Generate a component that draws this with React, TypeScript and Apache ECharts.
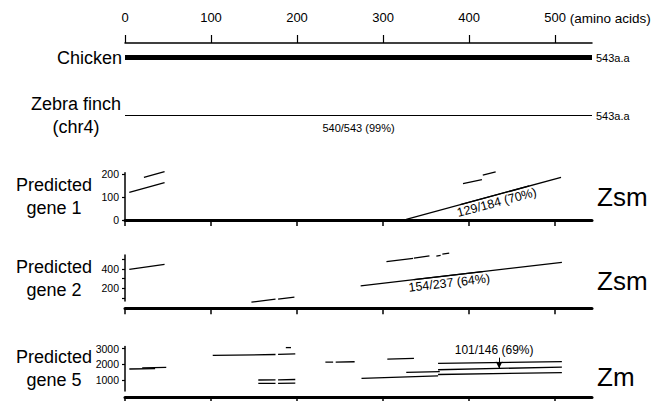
import React, { useEffect, useRef } from 'react';
import * as echarts from 'echarts';

const FONT = '"Liberation Sans", Arial, Helvetica, sans-serif';

// ---- reference axis ----
const AA_LENGTH = 543;
const AA_TICKS = [0, 100, 200, 300, 400, 500];
const AA_UNIT = '(amino acids)';
const REF_ROWS = ['Chicken', '', 'Zebra finch\n(chr4)'];
const LENGTH_LABEL = '543a.a';
const ZEBRA_IDENTITY = '540/543 (99%)';

// ---- predicted gene 1 ----
const GENE1_NAME = 'Predicted\ngene 1';
const GENE1_TYPE = 'Zsm';
const GENE1_RANGE = [0, 205];
const GENE1_TICKS = [0, 100, 200];
const GENE1_LABELS = [0, 100, 200];
const GENE1_SEGMENTS = [
  [[5, 120], [46, 162]],
  [[22, 185], [46, 210]],
  [[393, 158], [415, 175]],
  [[416, 194], [431, 209]],
];
const GENE1_MAIN = [[327, 3], [507, 185]];
const GENE1_IDENTITY = '129/184 (70%)';
const GENE1_LABEL_AT = 430;

// ---- predicted gene 2 ----
const GENE2_NAME = 'Predicted\ngene 2';
const GENE2_TYPE = 'Zsm';
const GENE2_RANGE = [70, 545];
const GENE2_TICKS = [100, 200, 300, 400, 500];
const GENE2_LABELS = [200, 400];
const GENE2_SEGMENTS = [
  [[5, 396], [46, 448]],
  [[147, 58], [175, 89]],
  [[178, 89], [197, 110]],
  [[304, 476], [335, 510]],
  [[336, 512], [354, 537]],
  [[362, 534], [367, 541]],
  [[369, 555], [377, 565]],
];
const GENE2_MAIN = [[274, 227], [508, 469]];
const GENE2_IDENTITY = '154/237 (64%)';
const GENE2_LABEL_AT = 376;

// ---- predicted gene 5 ----
const GENE5_NAME = 'Predicted\ngene 5';
const GENE5_TYPE = 'Zm';
const GENE5_RANGE = [300, 3130];
const GENE5_TICKS = [1000, 2000, 3000];
const GENE5_LABELS = [1000, 2000, 3000];
const GENE5_SEGMENTS = [
  [[5, 1700], [35, 1720]],
  [[20, 1770], [48, 1800]],
  [[102, 2560], [175, 2620]],
  [[178, 2630], [198, 2660]],
  [[187, 3060], [193, 3060]],
  [[155, 1000], [175, 1010]],
  [[178, 1010], [198, 1030]],
  [[155, 780], [175, 790]],
  [[178, 790], [198, 800]],
  [[233, 2130], [242, 2135]],
  [[245, 2140], [267, 2160]],
  [[305, 2330], [336, 2370]],
  [[275, 1100], [364, 1260]],
  [[327, 1480], [366, 1530]],
  [[364, 2060], [508, 2170]],
  [[364, 1350], [508, 1470]],
];
const GENE5_MAIN = [[364, 1650], [508, 1820]];
const GENE5_IDENTITY = '101/146 (69%)';
const GENE5_ARROW_X = 435;
const GENE5_ARROW_TOP = 2420;

const PANELS = [
  { name: GENE1_NAME, type: GENE1_TYPE, range: GENE1_RANGE, ticks: GENE1_TICKS, labels: GENE1_LABELS, segments: GENE1_SEGMENTS, main: GENE1_MAIN, identity: GENE1_IDENTITY, labelAt: GENE1_LABEL_AT, arrow: false },
  { name: GENE2_NAME, type: GENE2_TYPE, range: GENE2_RANGE, ticks: GENE2_TICKS, labels: GENE2_LABELS, segments: GENE2_SEGMENTS, main: GENE2_MAIN, identity: GENE2_IDENTITY, labelAt: GENE2_LABEL_AT, arrow: false },
  { name: GENE5_NAME, type: GENE5_TYPE, range: GENE5_RANGE, ticks: GENE5_TICKS, labels: GENE5_LABELS, segments: GENE5_SEGMENTS, main: GENE5_MAIN, identity: GENE5_IDENTITY, labelAt: 0, arrow: true },
];

// layout (pixels)
const PLOT_LEFT = 125;
const PLOT_WIDTH = 467;
const PANEL_BOX = [
  { top: 172.7, height: 47.3, xOffset: 2, typeY: 197 },
  { top: 255, height: 46, xOffset: 7.3, typeY: 281 },
  { top: 346.5, height: 44.5, xOffset: 6.5, typeY: 377 },
];

const along = (line: number[][], x: number) => {
  const [a, b] = line;
  const t = (x - a[0]) / (b[0] - a[0]);
  return [x, a[1] + t * (b[1] - a[1])];
};

function buildOption() {
  const grids: any[] = [{ left: PLOT_LEFT, width: PLOT_WIDTH, top: 43, height: 87 }];
  const xAxes: any[] = [
    {
      gridIndex: 0, type: 'value', position: 'top', min: 0, max: AA_LENGTH,
      axisLine: { show: true, lineStyle: { color: '#000', width: 1.5 } },
      axisTick: { show: true, length: 8, lineStyle: { color: '#000', width: 1.2 }, customValues: AA_TICKS },
      axisLabel: { show: true, color: '#000', fontSize: 13, fontFamily: FONT, margin: 19, customValues: AA_TICKS },
      splitLine: { show: false },
      name: AA_UNIT, nameLocation: 'end', nameGap: -24,
      nameTextStyle: { color: '#000', fontSize: 13.5, fontFamily: FONT, align: 'left', verticalAlign: 'bottom', padding: [0, 0, 18, 0] },
    },
  ];
  const yAxes: any[] = [
    {
      gridIndex: 0, type: 'category', data: REF_ROWS, inverse: true,
      axisLine: { show: false }, axisTick: { show: false }, splitLine: { show: false },
      axisLabel: {
        show: true, margin: 3, align: 'right', interval: 0, hideOverlap: false,
        formatter: (v: string) => {
          const parts = v.split('\n');
          return parts.length > 1 ? parts.map((s) => `{z|${s}}`).join('\n') : `{c|${v}}`;
        },
        rich: {
          z: { fontSize: 18, fontFamily: FONT, color: '#000', width: 92, align: 'center', lineHeight: 23 },
          c: { fontSize: 18, fontFamily: FONT, color: '#000', lineHeight: 23 },
        },
      },
    },
  ];
  const series: any[] = [];
  const graphic: any[] = [];

  // Reference rows
  series.push({
    type: 'line', xAxisIndex: 0, yAxisIndex: 0, symbol: 'none', silent: true,
    data: [[0, REF_ROWS[0]], [AA_LENGTH, REF_ROWS[0]]],
    lineStyle: { color: '#000', width: 5, cap: 'butt' },
    markPoint: {
      symbol: 'circle', symbolSize: 0, silent: true,
      data: [{ coord: [AA_LENGTH, REF_ROWS[0]] }],
      label: { show: true, position: 'right', distance: 4, formatter: LENGTH_LABEL, fontSize: 11, fontFamily: FONT, color: '#000' },
    },
  });
  series.push({
    type: 'line', xAxisIndex: 0, yAxisIndex: 0, symbol: 'none', silent: true,
    data: [[0, REF_ROWS[2]], [AA_LENGTH, REF_ROWS[2]]],
    lineStyle: { color: '#000', width: 1.2 },
    markPoint: {
      symbol: 'circle', symbolSize: 0, silent: true,
      data: [
        { coord: [AA_LENGTH / 2, REF_ROWS[2]], label: { position: 'inside', offset: [0, 12], formatter: ZEBRA_IDENTITY } },
        { coord: [AA_LENGTH, REF_ROWS[2]], label: { position: 'right', distance: 4, formatter: LENGTH_LABEL } },
      ],
      label: { show: true, fontSize: 11, fontFamily: FONT, color: '#000' },
    },
  });

  PANELS.forEach((p, i) => {
    const gi = i + 1;
    const box = PANEL_BOX[i];
    grids.push({ left: PLOT_LEFT, width: PLOT_WIDTH, top: box.top, height: box.height });
    xAxes.push({
      gridIndex: gi, type: 'value', min: 0, max: AA_LENGTH, offset: box.xOffset,
      axisLine: { show: true, lineStyle: { color: '#000', width: 3 } },
      axisTick: { show: true, length: 6, lineStyle: { color: '#000', width: 1.5 }, customValues: AA_TICKS },
      axisLabel: { show: false }, splitLine: { show: false },
    });
    yAxes.push({
      gridIndex: gi, type: 'value', min: p.range[0], max: p.range[1], offset: 2,
      axisLine: { show: true, lineStyle: { color: '#000', width: 1.5 } },
      axisTick: { show: true, length: 3, lineStyle: { color: '#000', width: 1.2 }, customValues: p.ticks },
      axisLabel: { show: true, color: '#000', fontSize: 10.5, fontFamily: FONT, margin: 4, customValues: p.labels, formatter: (v: number) => String(v) },
      splitLine: { show: false },
    });
    p.segments.forEach((seg) => {
      series.push({
        type: 'line', xAxisIndex: gi, yAxisIndex: gi, symbol: 'none', silent: true, clip: false,
        data: seg, lineStyle: { color: '#000', width: 1.3 },
      });
    });
    const mainSeries: any = {
      type: 'line', xAxisIndex: gi, yAxisIndex: gi, symbol: 'none', silent: true, clip: false,
      data: p.main, lineStyle: { color: '#000', width: 1.3 },
    };
    if (!p.arrow) {
      mainSeries.markLine = {
        silent: true, symbol: ['none', 'none'],
        lineStyle: { color: '#000', width: 1.3, type: 'solid' },
        label: { show: true, position: 'insideMiddleBottom', formatter: p.identity, fontSize: 12.5, fontFamily: FONT, color: '#000', distance: 1 },
        data: [[{ coord: along(p.main, p.labelAt - 40) }, { coord: along(p.main, p.labelAt + 40) }]],
      };
    } else {
      mainSeries.markLine = {
        silent: true, symbol: ['none', 'arrow'], symbolSize: [5, 7],
        lineStyle: { color: '#000', width: 1, type: 'solid' },
        label: { show: true, position: 'start', formatter: p.identity, fontSize: 12, fontFamily: FONT, color: '#000', distance: 2, offset: [-5, 0] },
        data: [[{ coord: [GENE5_ARROW_X, GENE5_ARROW_TOP] }, { coord: along(p.main, GENE5_ARROW_X) }]],
      };
    }
    series.push(mainSeries);

    graphic.push({
      type: 'text', x: 54, y: box.top + box.height / 2, silent: true,
      style: { text: p.name, fontSize: 18, fontFamily: FONT, fill: '#000', align: 'center', verticalAlign: 'middle', lineHeight: 23 },
    });
    graphic.push({
      type: 'text', x: 597, y: box.typeY, silent: true,
      style: { text: p.type, fontSize: 26, fontFamily: FONT, fill: '#000', verticalAlign: 'middle', align: 'left' },
    });
  });

  return {
    animation: false,
    backgroundColor: '#fff',
    textStyle: { fontFamily: FONT },
    grid: grids,
    xAxis: xAxes,
    yAxis: yAxes,
    series,
    graphic,
  };
}

export default function App() {
  const ref = useRef<HTMLDivElement>(null);
  useEffect(() => {
    if (!ref.current) return;
    const chart = echarts.init(ref.current, undefined, { renderer: 'svg' });
    chart.setOption(buildOption() as any);
    return () => chart.dispose();
  }, []);
  return <div ref={ref} style={{ position: 'fixed', left: 0, top: 0, width: 665, height: 401 }} />;
}
